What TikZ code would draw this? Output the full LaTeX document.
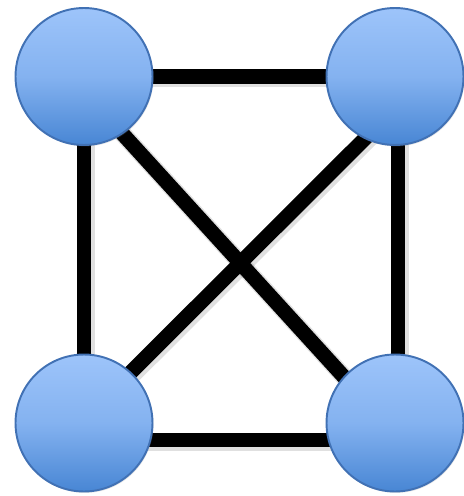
\documentclass[tikz,border=0pt]{standalone}
\usetikzlibrary{calc,backgrounds,shadows}
\definecolor{nodetop}{RGB}{157,196,250}
\definecolor{nodemid}{RGB}{132,178,240}
\definecolor{nodebot}{RGB}{72,134,212}
\definecolor{nodeline}{RGB}{65,113,180}
\tikzset{
  vertex/.style = {circle, draw=nodeline, line width=1.1pt,
                   top color=nodetop, bottom color=nodebot, middle color=nodemid,
                   minimum size=2.74cm, inner sep=0pt,
                   drop shadow={opacity=.2, shadow xshift=.6pt, shadow yshift=-.8pt}},
  bond/.style   = {line width=8.4pt, black,
                   preaction={draw=black, opacity=.12, line width=10pt,
                              transform canvas={shift={(1.2pt,-1.2pt)}}}},
}

\begin{document}
\begin{tikzpicture}[x=0.02cm,y=-0.02cm]
  \useasboundingbox (0,0) rectangle (463,496);

  \node[vertex] (tl) at (84,76.5)  {};
  \node[vertex] (tr) at (395,76.5) {};
  \node[vertex] (bl) at (84,423)   {};
  \node[vertex] (br) at (395,423)  {};

  \begin{scope}[on background layer]
    \draw[bond] (tl.center) -- (tr.center);
    \draw[bond] (tl.center) -- (bl.center);
    \draw[bond] ($(tr)+(3,0)$) -- ($(br)+(3,0)$);
    \draw[bond] ($(bl)+(0,17)$) -- ($(br)+(0,17)$);
    % the two crossing diagonals
    \draw[bond] ($(tl)+(0,15)$) -- ($(br)+(0,10)$);
    \draw[bond] ($(tr)+(0,32)$) -- ($(bl)+(0,-4)$);
  \end{scope}
\end{tikzpicture}
\end{document}
